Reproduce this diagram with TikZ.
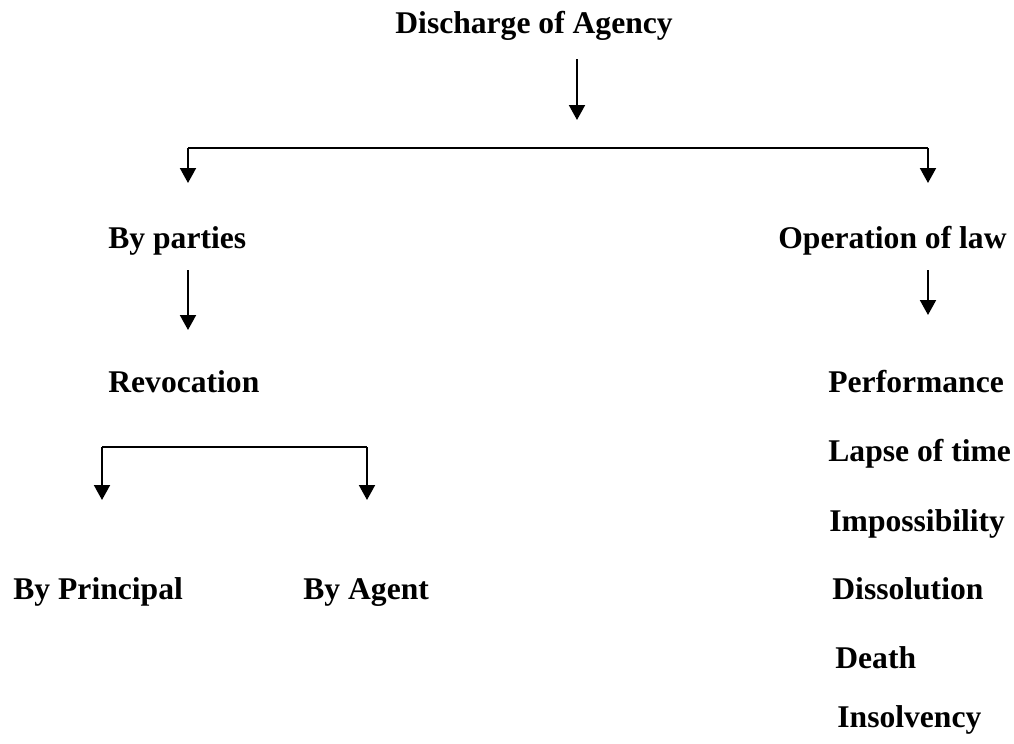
\documentclass[tikz,border=0pt]{standalone}
\usepackage{fontspec}
\setmainfont{Liberation Serif}
\usetikzlibrary{arrows.meta}
\begin{document}
\begin{tikzpicture}[x=0.5pt,y=-0.5pt,
    lbl/.style={inner sep=0pt,anchor=base west,font=\fontsize{15.8}{18}\selectfont\bfseries},
    linea/.style={line width=1pt},
    flecha/.style={line width=1pt,-{Triangle[width=8pt,length=7.5pt]}}]
                    \useasboundingbox (0,0) rectangle (1014,744);
                    % Titulo
                    \node[lbl] (disch) at (395,33) {Discharge of Agency};
                    \coordinate (dischA) at (577,59);
                    \coordinate (dischB) at (577,120);
                    \draw [flecha] (dischA) -- (dischB);
                    % Reparto en dos ramas
                    \coordinate (barL) at (188,148);
                    \coordinate (barR) at (928,148);
                    \coordinate (tipL) at (188,183);
                    \coordinate (tipR) at (928,183);
                    \draw [linea] (barL) -- (barR);
                    \draw [flecha] (barL) -- (tipL);
                    \draw [flecha] (barR) -- (tipR);
                    % Rama izquierda
                    \node[lbl] (parties) at (108,248) {By parties};
                    \coordinate (partA) at (188,270);
                    \coordinate (partB) at (188,330);
                    \draw [flecha] (partA) -- (partB);
                    \node[lbl] (revoc) at (108,392) {Revocation};
                    \coordinate (revL) at (102,447);
                    \coordinate (revR) at (367,447);
                    \coordinate (revtipL) at (102,500);
                    \coordinate (revtipR) at (367,500);
                    \draw [linea] (revL) -- (revR);
                    \draw [flecha] (revL) -- (revtipL);
                    \draw [flecha] (revR) -- (revtipR);
                    \node[lbl] (princ) at (13,599) {By Principal};
                    \node[lbl] (agent) at (303,599) {By Agent};
                    % Rama derecha
                    \node[lbl,anchor=base east] (oplaw) at (1007,248) {Operation of law};
                    \coordinate (opA) at (928,270);
                    \coordinate (opB) at (928,315);
                    \draw [flecha] (opA) -- (opB);
                    \node[lbl] (perf) at (828,392) {Performance};
                    \node[lbl] (lapse) at (828,461) {Lapse of time};
                    \node[lbl] (imposs) at (829,531) {Impossibility};
                    \node[lbl] (dissol) at (832,599) {Dissolution};
                    \node[lbl] (death) at (835,668) {Death};
                    \node[lbl] (insolv) at (837,727) {Insolvency};
                \end{tikzpicture}
\end{document}
